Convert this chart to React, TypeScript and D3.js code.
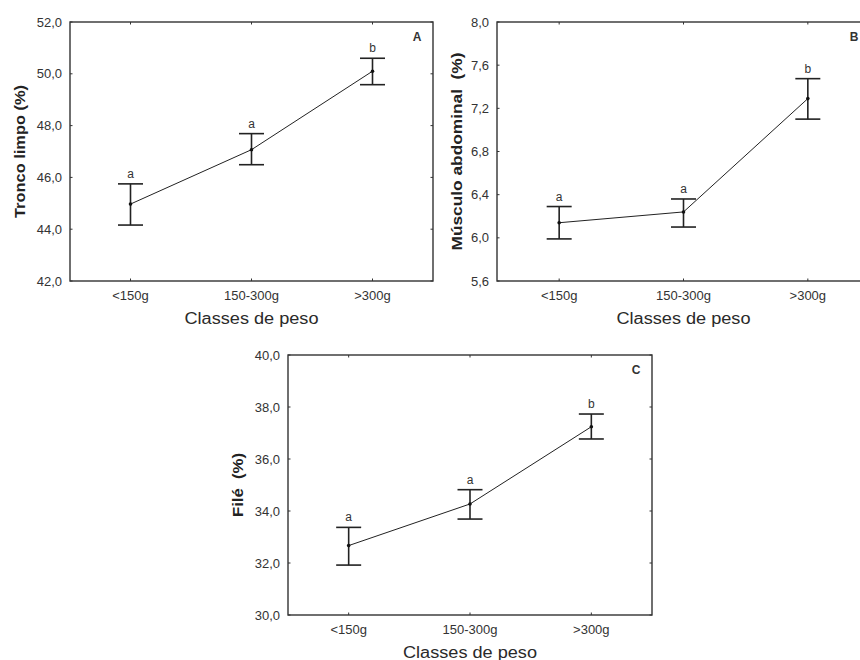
import React from "react";
import * as d3 from "d3";

const categories = ["<150g", "150-300g", ">300g"];

const troncoMean = [44.97, 47.07, 50.1];
const troncoLow = [44.16, 46.49, 49.58];
const troncoHigh = [45.75, 47.69, 50.6];
const troncoLetters = ["a", "a", "b"];
const troncoTicks = [42, 44, 46, 48, 50, 52];

const musculoMean = [6.14, 6.24, 7.29];
const musculoLow = [5.99, 6.1, 7.1];
const musculoHigh = [6.29, 6.36, 7.475];
const musculoLetters = ["a", "a", "b"];
const musculoTicks = [5.6, 6.0, 6.4, 6.8, 7.2, 7.6, 8.0];

const fileMean = [32.67, 34.27, 37.24];
const fileLow = [31.92, 33.69, 36.77];
const fileHigh = [33.37, 34.82, 37.73];
const fileLetters = ["a", "a", "b"];
const fileTicks = [30, 32, 34, 36, 38, 40];

const FONT = "Arial, 'Liberation Sans', Helvetica, sans-serif";
const fmt = (v: number) => d3.format(".1f")(v).replace(".", ",");

type PanelProps = {
  tag: string;
  yTitle: string;
  yTitleLen: number;
  mean: number[];
  low: number[];
  high: number[];
  letters: string[];
  ticks: number[];
  left: number;
  top: number;
  right: number;
  bottom: number;
  titleX: number;
};

const Panel = (p: PanelProps) => {
  const x = d3.scalePoint().domain(categories).range([p.left, p.right]).padding(0.5);
  const y = d3
    .scaleLinear()
    .domain([p.ticks[0], p.ticks[p.ticks.length - 1]])
    .range([p.bottom, p.top]);
  const pts = categories.map((c, i) => ({ c, m: p.mean[i], lo: p.low[i], hi: p.high[i], l: p.letters[i] }));
  const line = d3
    .line<{ c: string; m: number }>()
    .x(d => x(d.c)!)
    .y(d => y(d.m));
  const cap = 12.5;
  const tl = 2.5;
  const midY = (p.top + p.bottom) / 2;

  return (
    <g>
      <rect
        x={p.left}
        y={p.top}
        width={p.right - p.left}
        height={p.bottom - p.top}
        fill="none"
        stroke="#333"
        strokeWidth={1.4}
      />
      {p.ticks.map(t => (
        <g key={t}>
          <line x1={p.left} x2={p.left + tl} y1={y(t)} y2={y(t)} stroke="#333" />
          <line x1={p.right} x2={p.right - tl} y1={y(t)} y2={y(t)} stroke="#333" />
          <text
            x={p.left - 8}
            y={y(t)}
            dy="0.35em"
            textAnchor="end"
            fontSize={13}
            fill="#333"
            fontFamily={FONT}
          >
            {fmt(t)}
          </text>
        </g>
      ))}
      {categories.map(c => (
        <g key={c}>
          <line x1={x(c)} x2={x(c)} y1={p.top} y2={p.top + tl} stroke="#333" />
          <line x1={x(c)} x2={x(c)} y1={p.bottom} y2={p.bottom - tl} stroke="#333" />
          <text
            x={x(c)}
            y={p.bottom + 14}
            dy="0.35em"
            textAnchor="middle"
            fontSize={13}
            fill="#333"
            fontFamily={FONT}
          >
            {c}
          </text>
        </g>
      ))}
      <path d={line(pts) || ""} fill="none" stroke="#222" strokeWidth={1} />
      {pts.map(d => (
        <g key={d.c}>
          <line x1={x(d.c)} x2={x(d.c)} y1={y(d.lo)} y2={y(d.hi)} stroke="#222" strokeWidth={1.6} />
          <line x1={x(d.c)! - cap} x2={x(d.c)! + cap} y1={y(d.hi)} y2={y(d.hi)} stroke="#222" strokeWidth={1.6} />
          <line x1={x(d.c)! - cap} x2={x(d.c)! + cap} y1={y(d.lo)} y2={y(d.lo)} stroke="#222" strokeWidth={1.6} />
          <circle cx={x(d.c)} cy={y(d.m)} r={1.8} fill="#111" />
          <text
            x={x(d.c)}
            y={y(d.hi) - 6}
            textAnchor="middle"
            fontSize={12}
            fill="#333"
            fontFamily={FONT}
          >
            {d.l}
          </text>
        </g>
      ))}
      <text
        x={p.right - 16}
        y={p.top + 15}
        dy="0.35em"
        textAnchor="middle"
        fontSize={12}
        fontWeight="bold"
        fill="#333"
        fontFamily={FONT}
      >
        {p.tag}
      </text>
      <text
        x={x(categories[1])}
        y={p.bottom + 37}
        dy="0.35em"
        textAnchor="middle"
        fontSize={16}
        fill="#2a2a2a"
        fontFamily={FONT}
        textLength={134}
        lengthAdjust="spacingAndGlyphs"
      >
        Classes de peso
      </text>
      <text
        transform={`translate(${p.titleX},${midY}) rotate(-90)`}
        dy="0.35em"
        textAnchor="middle"
        fontSize={15}
        fontWeight="bold"
        fill="#222"
        fontFamily={FONT}
        textLength={p.yTitleLen}
        lengthAdjust="spacingAndGlyphs"
        style={{ whiteSpace: "pre" }}
      >
        {p.yTitle}
      </text>
    </g>
  );
};

const App = () => {
  return (
    <svg
      width={860}
      height={660}
      style={{ position: "absolute", left: 0, top: 0, background: "#fff" }}
    >
      <Panel
        tag="A"
        yTitle="Tronco limpo (%)"
        yTitleLen={133}
        mean={troncoMean}
        low={troncoLow}
        high={troncoHigh}
        letters={troncoLetters}
        ticks={troncoTicks}
        left={70}
        top={22}
        right={433}
        bottom={281}
        titleX={20}
      />
      <Panel
        tag="B"
        yTitle="Músculo abdominal  (%)"
        yTitleLen={198}
        mean={musculoMean}
        low={musculoLow}
        high={musculoHigh}
        letters={musculoLetters}
        ticks={musculoTicks}
        left={497}
        top={22}
        right={870}
        bottom={281}
        titleX={457}
      />
      <Panel
        tag="C"
        yTitle="Filé  (%)"
        yTitleLen={64}
        mean={fileMean}
        low={fileLow}
        high={fileHigh}
        letters={fileLetters}
        ticks={fileTicks}
        left={288}
        top={355}
        right={652}
        bottom={615}
        titleX={238}
      />
    </svg>
  );
};

export default App;
